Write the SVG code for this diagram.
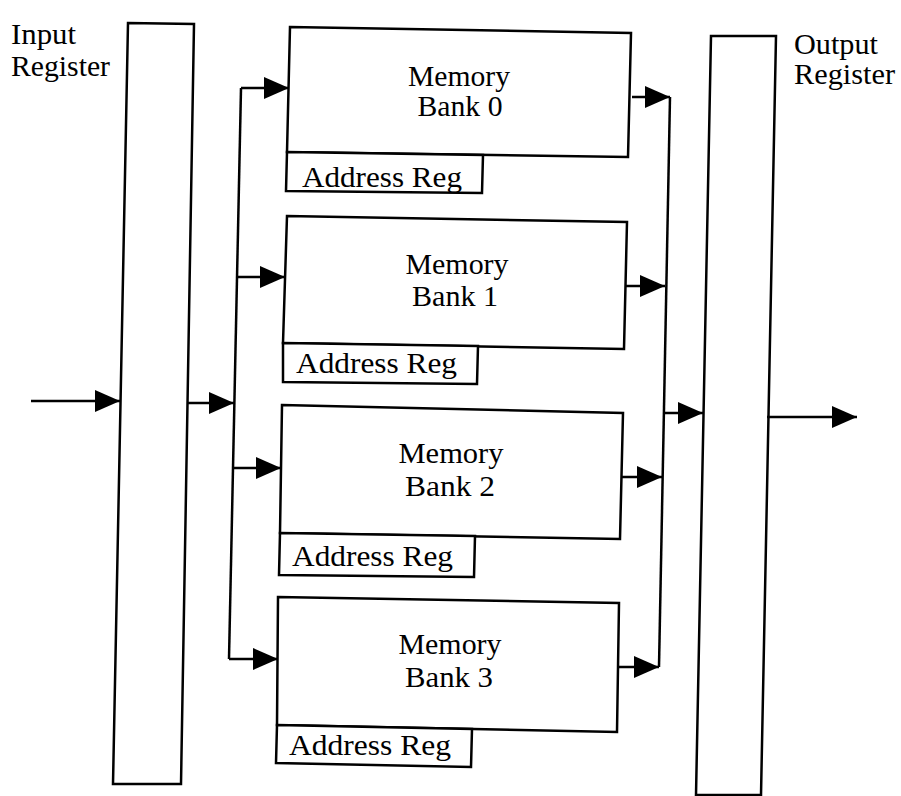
<svg xmlns="http://www.w3.org/2000/svg" width="901" height="796" viewBox="0 0 901 796">
<style>
.box{fill:#fff;stroke:#000;stroke-width:2.5;stroke-linejoin:miter}
.wire{fill:none;stroke:#000;stroke-width:2.5}
.t{font-family:"Liberation Serif","Times New Roman",serif;font-size:29px;fill:#000}
.c{text-anchor:middle}
</style>
<defs>
<marker id="ah" markerUnits="userSpaceOnUse" markerWidth="25" markerHeight="22" refX="25" refY="11" orient="auto" viewBox="0 0 25 22">
<path d="M0,0 L25,11 L0,22 z" fill="#000"/>
</marker>
</defs>
<rect width="901" height="796" fill="#fff"/>
<g id="input-register">
<polygon class="box" points="128,23 194,24 181,784 113,784"/>
<text class="t" x="11" y="44" textLength="65" lengthAdjust="spacingAndGlyphs">Input</text>
<text class="t" x="11" y="76" textLength="99" lengthAdjust="spacingAndGlyphs">Register</text>
</g>
<g id="output-register">
<polygon class="box" points="711,36 776,36 761,795 696,795"/>
<text class="t" x="794" y="54" textLength="84" lengthAdjust="spacingAndGlyphs">Output</text>
<text class="t" x="794" y="84" textLength="101" lengthAdjust="spacingAndGlyphs">Register</text>
</g>
<g id="bank0">
<polygon class="box" points="290,27 631,33 628,157 287,152"/>
<text class="t c" x="459" y="86" textLength="102" lengthAdjust="spacingAndGlyphs">Memory</text>
<text class="t c" x="460" y="116" textLength="85" lengthAdjust="spacingAndGlyphs">Bank 0</text>
<polygon class="box" points="287,152 483,155 482,193 286,191"/>
<text class="t" x="302" y="187" textLength="160" lengthAdjust="spacingAndGlyphs">Address Reg</text>
</g>
<g id="bank1">
<polygon class="box" points="287,216 627,222 624,349 283,343"/>
<text class="t c" x="457" y="274" textLength="103" lengthAdjust="spacingAndGlyphs">Memory</text>
<text class="t c" x="455" y="306" textLength="86" lengthAdjust="spacingAndGlyphs">Bank 1</text>
<polygon class="box" points="283,343 478,346 477,384 283,382"/>
<text class="t" x="296" y="373" textLength="161" lengthAdjust="spacingAndGlyphs">Address Reg</text>
</g>
<g id="bank2">
<polygon class="box" points="282,405 623,413 620,539 280,533"/>
<text class="t c" x="451" y="463" textLength="105" lengthAdjust="spacingAndGlyphs">Memory</text>
<text class="t c" x="450" y="496" textLength="90" lengthAdjust="spacingAndGlyphs">Bank 2</text>
<polygon class="box" points="280,533 475,536 474,577 279,575"/>
<text class="t" x="292" y="566" textLength="161" lengthAdjust="spacingAndGlyphs">Address Reg</text>
</g>
<g id="bank3">
<polygon class="box" points="278,597 619,603 617,732 277,725"/>
<text class="t c" x="450" y="654" textLength="103" lengthAdjust="spacingAndGlyphs">Memory</text>
<text class="t c" x="449" y="687" textLength="88" lengthAdjust="spacingAndGlyphs">Bank 3</text>
<polygon class="box" points="277,725 472,729 471,767 276,763"/>
<text class="t" x="289" y="755" textLength="162" lengthAdjust="spacingAndGlyphs">Address Reg</text>
</g>
<g id="connectors">
<line class="wire" x1="241" y1="88" x2="229" y2="659"/>
<line class="wire" x1="670" y1="97" x2="659" y2="667"/>
<line class="wire" x1="31" y1="401" x2="120" y2="401" marker-end="url(#ah)"/>
<line class="wire" x1="187" y1="403" x2="234" y2="403" marker-end="url(#ah)"/>
<line class="wire" x1="241" y1="88" x2="289" y2="88" marker-end="url(#ah)"/>
<line class="wire" x1="237" y1="277" x2="285" y2="277" marker-end="url(#ah)"/>
<line class="wire" x1="233" y1="468" x2="281" y2="468" marker-end="url(#ah)"/>
<line class="wire" x1="229" y1="659" x2="278" y2="659" marker-end="url(#ah)"/>
<line class="wire" x1="632" y1="97" x2="670" y2="97" marker-end="url(#ah)"/>
<line class="wire" x1="626" y1="286" x2="665" y2="286" marker-end="url(#ah)"/>
<line class="wire" x1="621" y1="477" x2="662" y2="477" marker-end="url(#ah)"/>
<line class="wire" x1="618" y1="667" x2="659" y2="667" marker-end="url(#ah)"/>
<line class="wire" x1="663" y1="413" x2="703" y2="413" marker-end="url(#ah)"/>
<line class="wire" x1="767" y1="417" x2="857" y2="417" marker-end="url(#ah)"/>
</g>
</svg>
